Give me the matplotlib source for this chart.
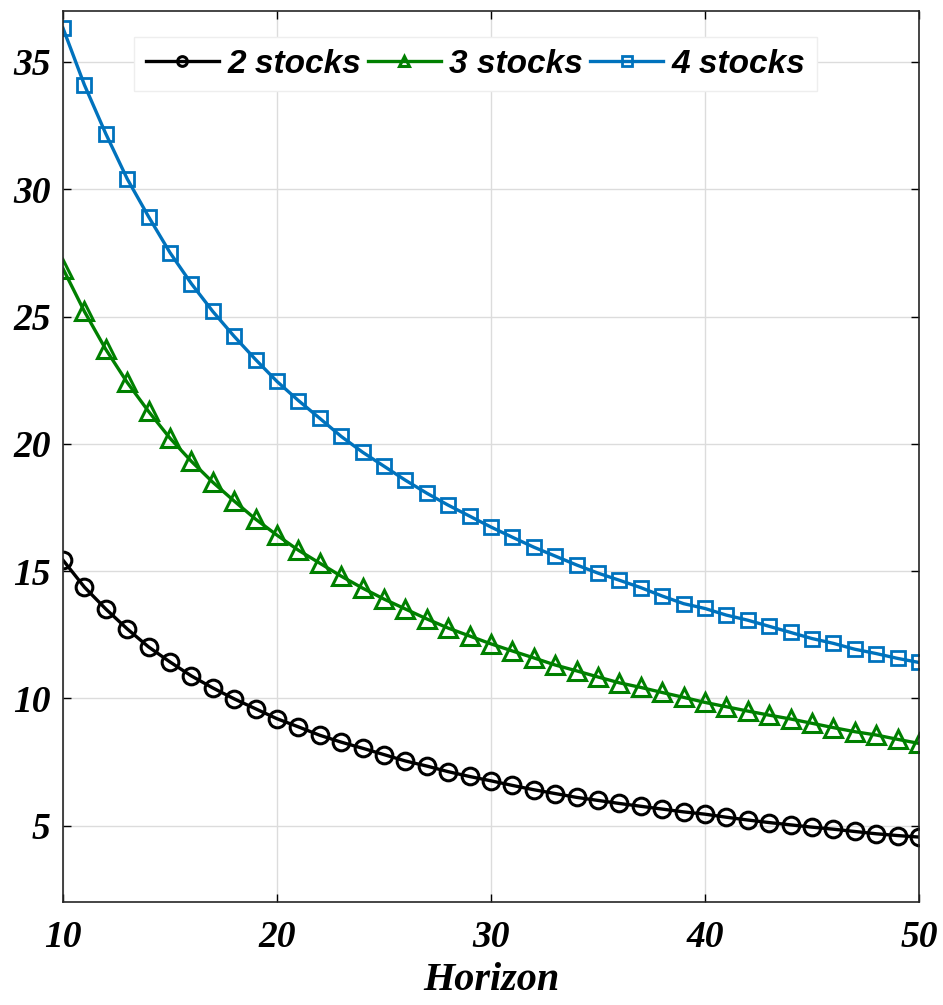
import matplotlib
matplotlib.use("Agg")
import matplotlib.pyplot as plt

horizon = list(range(10, 51))

two_stocks = [15.43, 14.37, 13.51, 12.73, 12.02, 11.43, 10.88, 10.41, 9.98, 9.59,
              9.20, 8.88, 8.55, 8.28, 8.04, 7.79, 7.54, 7.34, 7.12, 6.93,
              6.76, 6.58, 6.41, 6.26, 6.11, 5.99, 5.87, 5.76, 5.65, 5.54,
              5.45, 5.33, 5.22, 5.12, 5.03, 4.94, 4.86, 4.77, 4.68, 4.61, 4.55]

three_stocks = [26.88, 25.20, 23.71, 22.41, 21.27, 20.22, 19.31, 18.49, 17.75, 17.04,
                16.41, 15.82, 15.31, 14.80, 14.33, 13.90, 13.51, 13.12, 12.76, 12.45,
                12.14, 11.86, 11.59, 11.31, 11.08, 10.84, 10.61, 10.43, 10.23, 10.04,
                9.84, 9.67, 9.50, 9.34, 9.19, 9.02, 8.85, 8.69, 8.56, 8.39, 8.23]

four_stocks = [36.33, 34.10, 32.18, 30.41, 28.92, 27.51, 26.29, 25.20, 24.22, 23.31,
               22.45, 21.70, 21.00, 20.29, 19.67, 19.12, 18.57, 18.06, 17.59, 17.16,
               16.73, 16.33, 15.94, 15.59, 15.24, 14.92, 14.64, 14.35, 14.02, 13.72,
               13.53, 13.27, 13.07, 12.83, 12.59, 12.35, 12.16, 11.93, 11.76, 11.57, 11.41]

labels = ["2 stocks", "3 stocks", "4 stocks"]
x_ticks = [10, 20, 30, 40, 50]
y_ticks = [5, 10, 15, 20, 25, 30, 35]

fig = plt.figure(figsize=(9.43, 10.05), dpi=100)
ax = fig.add_axes([0.0668, 0.1025, 0.9077, 0.8865])

ax.plot(horizon, two_stocks, color="black", marker="o", markersize=12,
        markerfacecolor="none", markeredgewidth=2.2, linewidth=2.4, label=labels[0])
ax.plot(horizon, three_stocks, color="#008000", marker="^", markersize=13,
        markerfacecolor="none", markeredgewidth=2.2, linewidth=2.4, label=labels[1])
ax.plot(horizon, four_stocks, color="#0072BD", marker="s", markersize=10,
        markerfacecolor="none", markeredgewidth=2.0, linewidth=2.4, label=labels[2])

ax.set_xlim(10, 50)
ax.set_ylim(2, 37)
ax.set_xticks(x_ticks)
ax.set_yticks(y_ticks)
ax.grid(True, color="#dcdcdc", linewidth=1)
ax.set_axisbelow(True)
ax.tick_params(direction="in", top=True, right=True, length=6, width=1)
ax.tick_params(axis="x", pad=13)
ax.tick_params(axis="y", pad=9)
for lab in ax.get_xticklabels() + ax.get_yticklabels():
    lab.set_fontfamily("Liberation Serif")
    lab.set_fontstyle("italic")
    lab.set_fontweight("bold")
    lab.set_fontsize(27)
for s in ax.spines.values():
    s.set_linewidth(1.2)
    s.set_color("#262626")

ax.set_xlabel("Horizon", fontfamily="Liberation Serif", fontstyle="italic",
              fontweight="bold", fontsize=29, labelpad=5)

leg = ax.legend(loc="upper center", bbox_to_anchor=(0.482, 0.971), ncol=3,
                prop={"family": "Liberation Sans", "style": "italic",
                      "weight": "bold", "size": 24},
                handlelength=2.2, handletextpad=0.25, columnspacing=0.2,
                borderpad=0.35, borderaxespad=0, fancybox=False, framealpha=1)
leg.get_frame().set_edgecolor("#eeeeee")
leg.get_frame().set_linewidth(1)
for h in leg.legend_handles:
    h.set_markersize(7)

fig.savefig("out.png", dpi=100)
